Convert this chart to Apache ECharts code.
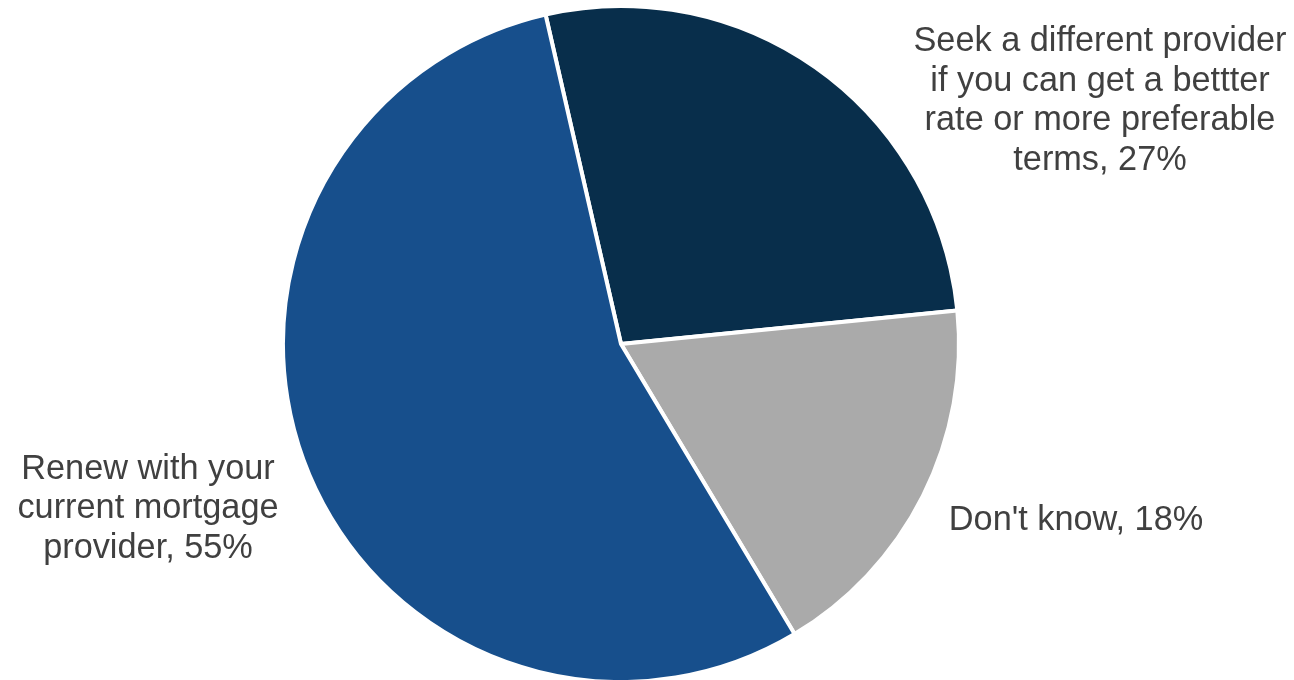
<!DOCTYPE html>
<html>
<head>
<meta charset="utf-8">
<script src="https://cdn.jsdelivr.net/npm/echarts@6/dist/echarts.min.js"></script>
<style>
  html, body { margin: 0; padding: 0; background: #ffffff; }
  #chart { width: 1294px; height: 680px; }
</style>
</head>
<body>
<div id="chart"></div>
<script>
// Mortgage renewal intentions (share of respondents, %)
const categories = [
  'Seek a different provider\nif you can get a bettter\nrate or more preferable\nterms',
  "Don't know",
  'Renew with your\ncurrent mortgage\nprovider'
];
const shares = [27, 18, 55];
const sliceColors = ['#082e4b', '#aaaaaa', '#174f8c'];

// Where each label block is centred
const labelSpots = [
  { x: 1100, y: 101 },
  { x: 1076, y: 521 },
  { x: 148, y: 509 }
];

const chart = echarts.init(document.getElementById('chart'), null, { renderer: 'canvas' });

chart.setOption({
  animation: false,
  backgroundColor: '#ffffff',
  series: [{
    type: 'pie',
    center: [621, 344],
    radius: [0, 338],
    startAngle: 102.9,
    clockwise: true,
    avoidLabelOverlap: false,
    itemStyle: { borderColor: '#ffffff', borderWidth: 4 },
    label: {
      show: true,
      position: 'outside',
      formatter: p => p.name + ', ' + p.value + '%',
      color: '#404040',
      fontFamily: 'Liberation Sans, Arial, sans-serif',
      fontSize: 34.3,
      lineHeight: 39.5,
      align: 'center'
    },
    labelLine: { show: false },
    labelLayout: function (params) {
      const s = labelSpots[params.dataIndex];
      return { x: s.x, y: s.y, align: 'center', verticalAlign: 'middle' };
    },
    data: categories.map((c, i) => ({
      name: c,
      value: shares[i],
      itemStyle: { color: sliceColors[i] }
    }))
  }]
});
</script>
</body>
</html>
